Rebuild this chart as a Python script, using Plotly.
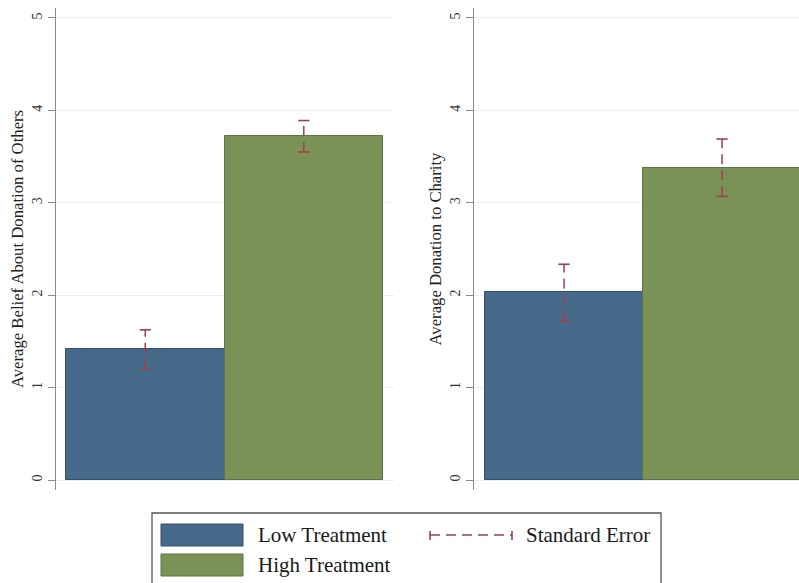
import plotly.graph_objects as go
from plotly.subplots import make_subplots

# ---- data ----
categories = ["Low Treatment", "High Treatment"]
belief_means = [1.415, 3.72]
belief_se = [0.21, 0.17]
donation_means = [2.03, 3.38]
donation_se = [0.305, 0.31]
y_titles = ["Average Belief About Donation of Others", "Average Donation to Charity"]
y_ticks = [0, 1, 2, 3, 4, 5]
se_label = "Standard Error"

colors = ["#486a8a", "#7a9157"]
outlines = ["#2f4f6e", "#5d7440"]
err_color = "#a23f4c"
W, H = 799, 583
FONT = "Liberation Serif, Times New Roman, serif"

fig = make_subplots(rows=1, cols=2)

panels = [(belief_means, belief_se), (donation_means, donation_se)]
for c, (means, ses) in enumerate(panels, start=1):
    for i, cat in enumerate(categories):
        fig.add_trace(go.Bar(x=[i], y=[means[i]], width=1, name=cat,
                             marker=dict(color=colors[i], line=dict(color=outlines[i], width=1)),
                             showlegend=False), row=1, col=c)
    for i in range(len(categories)):
        lo, hi = means[i] - ses[i], means[i] + ses[i]
        fig.add_trace(go.Scatter(x=[i, i], y=[lo, hi], mode="lines",
                                 line=dict(color=err_color, width=1.5, dash="10px,6px"),
                                 showlegend=False, hoverinfo="skip"), row=1, col=c)
        fig.add_trace(go.Scatter(x=[i, i], y=[lo, hi], mode="markers",
                                 marker=dict(symbol="line-ew", size=8,
                                             line=dict(color=err_color, width=1.6)),
                                 showlegend=False, hoverinfo="skip"), row=1, col=c)

ydom = [93 / H, 575 / H]
yrange = [-0.108, 5.108]
fig.update_layout(
    width=W, height=H, margin=dict(l=0, r=0, t=0, b=0),
    paper_bgcolor="white", plot_bgcolor="white",
    font=dict(family=FONT, color="#222222"),
    showlegend=False, bargap=0,
    xaxis=dict(domain=[56 / W, 394 / W], range=[-0.563, 1.569]),
    xaxis2=dict(domain=[474 / W, 1.0], range=[-0.57, 1.487]),
)
for ax in ["xaxis", "xaxis2"]:
    fig.layout[ax].update(showgrid=False, zeroline=False, showline=False,
                          showticklabels=False, ticks="")
for k, ax in enumerate(["yaxis", "yaxis2"]):
    fig.layout[ax].update(
        domain=ydom, range=yrange, tickvals=y_ticks, ticktext=[str(t) for t in y_ticks],
        tickangle=-90, ticks="outside", ticklen=7, tickcolor="#888888", tickwidth=1,
        tickfont=dict(size=14, color="#333333", family=FONT),
        ticklabelstandoff=0,
        showline=True, linecolor="#8a8a8a", linewidth=1.3,
        showgrid=True, gridcolor="#e8f0f2", gridwidth=1, zeroline=False,
        title=dict(text=y_titles[k], font=dict(size=16.7, color="#222222", family=FONT), standoff=2),
    )

# ---- legend (drawn in paper coordinates) ----
def px(x):
    return x / W

def py(y):
    return 1 - y / H

shapes = [
    dict(type="rect", xref="paper", yref="paper", x0=px(152), x1=px(661), y0=py(513), y1=py(592),
         line=dict(color="#555555", width=1.3), fillcolor="rgba(0,0,0,0)"),
    dict(type="rect", xref="paper", yref="paper", x0=px(161), x1=px(243), y0=py(524), y1=py(546),
         line=dict(color=outlines[0], width=1), fillcolor=colors[0]),
    dict(type="rect", xref="paper", yref="paper", x0=px(161), x1=px(243), y0=py(554), y1=py(576),
         line=dict(color=outlines[1], width=1), fillcolor=colors[1]),
    dict(type="line", xref="paper", yref="paper", x0=px(430), x1=px(512), y0=py(535), y1=py(535),
         line=dict(color=err_color, width=1.6, dash="10px,6px")),
    dict(type="line", xref="paper", yref="paper", x0=px(430), x1=px(430), y0=py(531), y1=py(540),
         line=dict(color=err_color, width=1.6)),
    dict(type="line", xref="paper", yref="paper", x0=px(512), x1=px(512), y0=py(531), y1=py(540),
         line=dict(color=err_color, width=1.6)),
]
fig.update_layout(shapes=shapes)
labels = [(categories[0], 256, 535), (categories[1], 256, 565), (se_label, 524, 535)]
for text, x, y in labels:
    fig.add_annotation(text=text, x=px(x), y=py(y), xref="paper", yref="paper",
                       xanchor="left", yanchor="middle", showarrow=False,
                       font=dict(size=21, color="#1a1a1a", family=FONT))

fig.write_html("out.html")
